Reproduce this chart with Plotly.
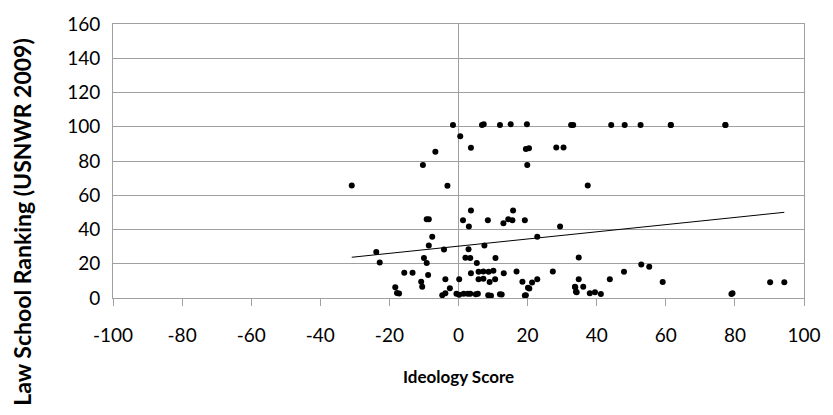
import numpy as np
import plotly.graph_objects as go

# Ideology score (x) and USNWR 2009 law school ranking (y) for each faculty point
ideology = [
    -1.6, 6.8, 7.3, 12.0, 15.1, 19.8, 32.6, 33.2, 44.2, 48.1, 52.7, 61.45, 61.45, 77.25, 77.25,
    0.5, 3.6, -6.7, -10.3, -30.9, -3.2, 19.5, 20.4, 28.3, 30.4, 19.9, 37.4,
    -9.2, -8.6, 3.6, 1.3, 3.0, 8.5, -7.6, -8.6, -23.8, -22.8, -4.2, 7.5,
    -10.0, -9.2, 2.9, 2.0, 3.4, 5.3, 10.7, -15.7, -13.3, -8.8, -10.8, -10.5,
    -18.3, -17.8, -17.2, -3.8, -2.5, -4.7, -3.8, 0.2, -0.6, 0.2, 1.5, 2.7, 3.4,
    3.6, 5.8, 7.2, 8.7, 10.1, 5.8, 7.2, 9.0, 10.6, 5.6, 9.0, 9.4, 12.0,
    15.8, 13.0, 14.4, 15.6, 19.2, 29.4, 22.8, 34.8, 13.1, 16.8, 27.3,
    18.5, 20.1, 21.3, 22.8, 19.2, 34.8, 33.7, 34.2, 36.1, 39.5, 41.2, 43.8,
    47.9, 52.9, 55.2, 59.1, 79.0, 79.3, 90.2, 94.3,
    19.5, 20.5, 34.0, 33.8, 5.0, 12.5, 38.0, 8.6,
]
ranking = [
    101, 101, 101.5, 101, 101.5, 101.5, 101, 101, 101, 101, 101, 101, 101, 101, 101,
    94.4, 87.7, 85.4, 77.6, 65.7, 65.5, 87.0, 87.4, 87.9, 87.9, 77.6, 65.7,
    46.0, 46.0, 51.1, 45.4, 41.7, 45.4, 35.8, 30.6, 26.8, 20.7, 28.3, 30.6,
    23.3, 20.5, 28.5, 23.5, 23.3, 20.5, 23.4, 14.7, 14.7, 13.4, 9.5, 6.5,
    6.3, 2.9, 2.7, 11.0, 5.7, 1.6, 2.8, 11.0, 2.5, 1.9, 2.5, 2.5, 2.5,
    14.5, 15.3, 15.5, 15.3, 15.9, 11.0, 11.3, 9.3, 11.0, 2.5, 1.3, 1.3, 2.2,
    51.1, 43.7, 46.0, 45.4, 45.4, 41.7, 35.8, 23.7, 14.5, 15.5, 15.5,
    9.5, 6.0, 9.1, 11.0, 1.4, 11.0, 6.6, 3.4, 6.6, 3.3, 2.3, 11.0,
    15.3, 19.6, 18.2, 9.3, 2.3, 2.8, 9.2, 9.2,
    1.6, 5.5, 3.6, 6.3, 2.2, 2.0, 2.8, 1.6,
]

x_ticks = list(range(-100, 101, 20))
y_ticks = list(range(0, 161, 20))

# Linear trend line fitted across the observed ideology range
slope, intercept = np.polyfit(ideology, ranking, 1)
trend_x = np.array([min(ideology), max(ideology)])
trend_y = slope * trend_x + intercept

grid = "#a0a0a0"
font_family = "Lato, 'Open Sans', sans-serif"

fig = go.Figure()
fig.add_trace(go.Scatter(
    x=ideology, y=ranking, mode="markers",
    marker=dict(color="black", size=6, line=dict(width=0)),
    showlegend=False, hoverinfo="x+y",
))
fig.add_trace(go.Scatter(
    x=trend_x, y=trend_y, mode="lines",
    line=dict(color="black", width=1),
    showlegend=False, hoverinfo="skip",
))

fig.update_layout(
    width=833, height=415,
    margin=dict(l=113, r=23, t=20, b=117),
    paper_bgcolor="white", plot_bgcolor="white",
    font=dict(family=font_family, color="black", size=19),
    xaxis=dict(
        range=[-100, 100], tickvals=x_ticks, ticktext=[str(v) for v in x_ticks],
        showgrid=False, zeroline=True, zerolinecolor=grid, zerolinewidth=1,
        showline=True, linecolor=grid, linewidth=1, mirror=True,
        ticks="outside", ticklen=7, tickcolor=grid, tickwidth=1,
        ticklabelstandoff=13,
        tickfont=dict(size=19, family=font_family, color="black"),
    ),
    yaxis=dict(
        range=[0, 160], tickvals=y_ticks, ticktext=[str(v) for v in y_ticks],
        showgrid=True, gridcolor=grid, gridwidth=1,
        zeroline=False, showline=True, linecolor=grid, linewidth=1, mirror=True,
        ticks="", ticklabelstandoff=8,
        tickfont=dict(size=19, family=font_family, color="black"),
    ),
    annotations=[
        dict(text="<b>Ideology Score</b>", xref="paper", yref="paper",
             x=0.5, y=-0.285, xanchor="center", yanchor="middle", showarrow=False,
             font=dict(size=17, family=font_family, color="black")),
        dict(text="<b>Law School Ranking (USNWR 2009)</b>", xref="paper", yref="paper",
             x=-0.131, y=0.28, textangle=-90, xanchor="center", yanchor="middle",
             showarrow=False, font=dict(size=23, family=font_family, color="black")),
    ],
)

fig.write_html("out.html")
